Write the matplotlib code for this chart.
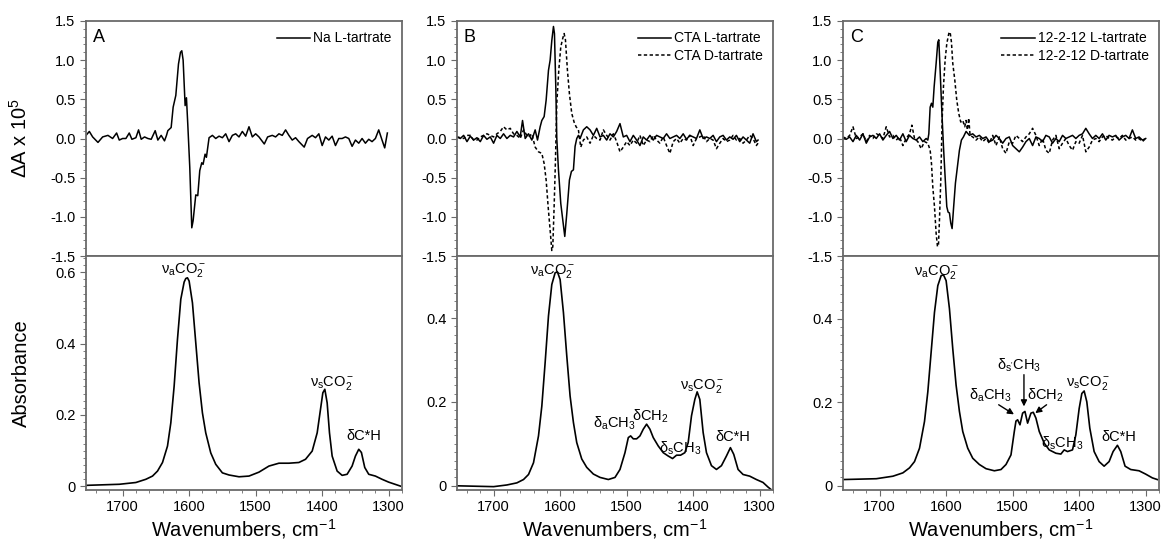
import matplotlib
matplotlib.use("Agg")
from matplotlib import pyplot as plt
from matplotlib.ticker import MultipleLocator, FixedLocator, FixedFormatter

plt.rcParams['font.family'] = ['Liberation Sans', 'DejaVu Sans']
plt.rcParams['mathtext.fontset'] = 'custom'
plt.rcParams['mathtext.rm'] = 'Liberation Sans'
plt.rcParams['mathtext.it'] = 'Liberation Sans:italic'
plt.rcParams['axes.unicode_minus'] = False

# ---------------- data ----------------
# shared wavenumber positions (cm-1)
wn_head = [1755, 1750, 1745, 1740, 1735, 1730, 1725, 1720, 1715, 1710, 1705, 1700, 1695,
           1690, 1685, 1680, 1675, 1670, 1665, 1660, 1655, 1650, 1645, 1640, 1635, 1630]
wn_tail = [1565, 1560, 1555, 1550, 1545, 1540, 1535, 1530, 1525, 1520, 1515, 1510, 1505,
           1500, 1495, 1490, 1485, 1480, 1475, 1470, 1465, 1460, 1455, 1450, 1445, 1440,
           1435, 1430, 1425, 1420, 1415, 1410, 1405, 1400, 1395, 1390, 1385, 1380, 1375,
           1370, 1365, 1360, 1355, 1350, 1345, 1340, 1335, 1330, 1325, 1320, 1315, 1310, 1305]

# A, VCD (dA x 1e5), Na L-tartrate
A_vcd_x = [1755, 1750, 1745, 1737, 1730, 1722, 1715, 1709, 1705, 1700, 1695, 1690, 1686, 1680,
           1676, 1672, 1667, 1662, 1657, 1651, 1647, 1642, 1637, 1634,
           1632, 1627, 1624, 1620, 1616, 1613, 1611, 1609, 1606, 1604, 1602, 1599, 1596, 1594,
           1590, 1587, 1584, 1581, 1579, 1576, 1574,
           1570, 1565, 1560, 1555, 1550, 1545, 1540, 1535, 1530, 1525, 1520, 1515, 1510, 1505,
           1500, 1495, 1487, 1482, 1475, 1470, 1465, 1460, 1455, 1450, 1445, 1440, 1435, 1427,
           1422, 1415, 1410, 1405, 1400, 1395, 1390, 1385, 1380, 1375, 1370, 1365, 1360, 1355,
           1350, 1345, 1340, 1335, 1330, 1325, 1320, 1315, 1310, 1306, 1302]
A_vcd = [0.04, 0.09, 0.02, -0.05, 0.02, 0.04, 0.0, 0.07, -0.02, 0.0, 0.0, 0.07, -0.01, 0.01,
         0.11, -0.01, 0.02, 0.0, -0.01, 0.1, -0.02, 0.04, -0.03, 0.04,
         0.1, 0.14, 0.4, 0.55, 0.95, 1.1, 1.12, 1.0, 0.42, 0.52, 0.18, -0.37, -1.14, -1.05,
         -0.72, -0.73, -0.41, -0.31, -0.33, -0.2, -0.24,
         0.01, 0.04, 0.0, 0.03, 0.01, 0.06, -0.04, 0.04, 0.06, 0.02, 0.09, 0.03, 0.15, 0.02,
         0.06, 0.02, -0.07, 0.02, 0.04, 0.02, 0.06, 0.04, 0.11, 0.04, -0.02, 0.01, -0.04, -0.11,
         0.0, 0.04, 0.01, 0.06, -0.09, 0.02, -0.02, 0.03, -0.09, 0.0, 0.0, 0.02, 0.0, -0.1,
         -0.02, -0.06, 0.0, -0.06, -0.01, -0.04, 0.0, 0.11, -0.02, -0.12, 0.07]

# B, VCD, CTA L-tartrate (solid) and D-tartrate (dashed)
B_L_x = (wn_head[:20] + [1656.5, 1652.5, 1647.5, 1642.5, 1637.5, 1634, 1630]
         + [1627.5, 1624, 1621, 1617.5, 1615, 1612.5, 1610, 1608.5, 1606.5, 1605, 1602.5,
            1599, 1596, 1593, 1590, 1586, 1583, 1580, 1577.5, 1575]
         + [1572.5, 1570] + wn_tail + [1302.5])
B_L = [0.02, 0.0, 0.04, -0.04, 0.03, -0.02, 0.01, -0.04, 0.04, -0.01, 0.02, -0.06, 0.04, 0.0,
       0.06, 0.0, 0.04, 0.02, 0.09, 0.02, 0.23, 0.0, 0.06, -0.02, 0.11, -0.02, 0.15,
       0.23, 0.28, 0.49, 0.87, 1.0, 1.25, 1.43, 1.34, 0.66, 0.0, -0.4, -0.83, -1.04, -1.25,
       -0.96, -0.53, -0.42, -0.4, -0.1, 0.0,
       0.04, 0.0, 0.11, 0.15, 0.11, 0.04, 0.13, 0.02, 0.04, -0.02, 0.06, 0.02, 0.09, 0.19,
       0.02, 0.04, -0.04, 0.04, -0.02, -0.09, 0.02, -0.02, 0.04, -0.02, 0.04, 0.02, 0.0, 0.06,
       0.0, 0.02, 0.04, 0.0, 0.06, -0.01, 0.04, 0.02, 0.0, 0.11, 0.0, 0.02, 0.0, 0.04, -0.04,
       0.02, 0.04, -0.02, 0.02, -0.01, 0.04, -0.04, 0.02, -0.02, -0.06, 0.06, -0.04, -0.02]
B_D_x = (wn_head[:22] + [1647.5, 1642.5, 1637.5, 1632.5, 1627.5]
         + [1624, 1621, 1618, 1615, 1612.5, 1611, 1609, 1607, 1605, 1602, 1599, 1596, 1594,
            1592, 1589, 1586, 1582.5, 1579, 1576, 1572.5, 1569]
         + wn_tail + [1302.5])
B_D = [0.02, 0.01, 0.0, 0.04, 0.04, -0.02, -0.02, 0.02, 0.04, 0.06, 0.04, 0.02, 0.06, 0.09,
       0.15, 0.11, 0.13, 0.06, 0.04, 0.0, 0.11, 0.04, 0.02, 0.06, -0.11, -0.17, -0.19,
       -0.32, -0.53, -0.87, -1.17, -1.43, -1.38, -0.87, -0.28, 0.45, 0.87, 1.17, 1.28, 1.34,
       1.26, 0.87, 0.57, 0.32, 0.21, 0.15, 0.11, -0.11,
       -0.02, 0.02, -0.06, 0.04, 0.0, -0.02, 0.11, 0.04, -0.02, 0.06, -0.04, -0.17, -0.11,
       -0.04, -0.09, -0.02, -0.06, 0.04, -0.09, -0.02, -0.04, 0.04, -0.02, -0.06, 0.02, -0.09,
       -0.19, -0.04, 0.0, -0.06, 0.0, -0.02, 0.04, -0.09, 0.0, 0.02, 0.04, -0.04, 0.0, -0.02,
       -0.13, -0.06, 0.0, -0.04, -0.02, 0.04, -0.02, 0.0, -0.06, -0.02, 0.04, 0.0, -0.09, -0.06]

# C, VCD, 12-2-12 L-tartrate (solid) and D-tartrate (dashed)
C_L_x = (wn_head + [1627.5]
         + [1626, 1624, 1622, 1620, 1618, 1615, 1612.5, 1611, 1609, 1606.5, 1604, 1601.5,
            1599, 1597, 1595, 1593, 1591, 1589, 1586, 1583, 1580, 1577, 1574]
         + [1570] + wn_tail + [1300])
C_L = [0.0, -0.01, 0.02, -0.04, 0.04, -0.02, 0.06, -0.06, 0.02, 0.04, 0.0, 0.06, -0.02, 0.04,
       0.09, 0.0, 0.04, -0.02, 0.06, -0.04, 0.04, 0.0, -0.02, 0.02, -0.04, 0.0, -0.02,
       0.06, 0.4, 0.45, 0.4, 0.66, 0.96, 1.23, 1.26, 0.87, 0.36, -0.1, -0.49, -0.87, -0.94,
       -0.95, -1.08, -1.15, -0.91, -0.57, -0.36, -0.15, -0.02, 0.02,
       0.09, 0.04, 0.06, 0.02, 0.04, 0.0, 0.02, -0.04, -0.02, 0.04, 0.0, -0.06, 0.0, 0.02,
       -0.09, -0.13, -0.17, -0.11, -0.04, 0.0, -0.09, 0.02, 0.0, -0.04, 0.04, 0.02, -0.06, 0.0,
       -0.04, 0.04, 0.0, 0.02, 0.04, 0.0, 0.04, 0.06, 0.13, 0.06, 0.0, 0.04, 0.0, 0.06, -0.02,
       0.04, 0.02, 0.04, -0.02, 0.02, 0.04, 0.0, 0.11, 0.0, 0.02, -0.02, 0.0]
C_D_x = (wn_head[:21] + [1651.5, 1647.5, 1642.5, 1637.5, 1632.5, 1627.5]
         + [1624, 1622, 1620, 1617.5, 1615, 1613, 1611.5, 1610, 1608, 1606, 1604, 1601.5,
            1599, 1596, 1594, 1592, 1590, 1587, 1584, 1581, 1578, 1575, 1572, 1570, 1568,
            1566, 1564]
         + wn_tail[1:] + [1300])
C_D = [0.02, 0.0, 0.04, 0.15, 0.0, 0.02, 0.06, -0.04, 0.04, 0.0, 0.06, 0.04, 0.0, 0.15,
       0.02, 0.04, -0.02, 0.02, -0.09, 0.0, 0.06, 0.17, 0.0, -0.04, -0.13, -0.04, -0.06,
       -0.15, -0.32, -0.62, -0.87, -1.21, -1.38, -1.36, -1.04, -0.53, 0.23, 0.66, 1.0, 1.21,
       1.34, 1.36, 1.23, 0.96, 0.75, 0.49, 0.32, 0.21, 0.23, 0.15, 0.23, 0.11, 0.26, 0.04,
       0.02, -0.02, 0.02, -0.04, 0.0, -0.06, 0.04, -0.09, 0.02, -0.13, -0.19, -0.04, -0.06,
       0.04, 0.0, -0.04, 0.02, 0.06, 0.13, 0.04, -0.09, 0.0, -0.15, -0.19, -0.02, 0.04, -0.13,
       -0.06, 0.0, -0.09, -0.15, -0.04, -0.06, 0.04, -0.17, -0.11, -0.02, 0.0, -0.04, 0.02,
       0.04, 0.0, -0.02, 0.02, 0.0, 0.04, -0.02, 0.0, 0.02, -0.02, 0.0, -0.04, 0.0]

# absorbance spectra
A_abs_x = [1755, 1705, 1680, 1665, 1655, 1647.5, 1640, 1632.5, 1627.5, 1622.5, 1617.5, 1612.5,
           1607.5, 1605, 1602.5, 1600, 1595, 1590, 1585, 1580, 1575, 1567.5, 1560, 1550, 1540,
           1525, 1510, 1495, 1480, 1465, 1450, 1435, 1425, 1415, 1407.5, 1402.5, 1399, 1396,
           1392.5, 1389, 1385, 1377.5, 1370, 1362.5, 1355, 1350, 1345, 1341, 1336, 1330, 1320,
           1310, 1300, 1282.5]
A_abs = [0.003, 0.006, 0.011, 0.02, 0.029, 0.043, 0.067, 0.113, 0.178, 0.281, 0.412, 0.524,
         0.572, 0.582, 0.584, 0.575, 0.514, 0.402, 0.29, 0.206, 0.15, 0.094, 0.062, 0.038,
         0.032, 0.027, 0.029, 0.04, 0.057, 0.065, 0.065, 0.067, 0.076, 0.099, 0.15, 0.216,
         0.262, 0.272, 0.234, 0.15, 0.085, 0.043, 0.031, 0.034, 0.057, 0.085, 0.104, 0.095,
         0.053, 0.034, 0.029, 0.02, 0.012, 0.001]
B_abs_x = [1755, 1700, 1680, 1665, 1655, 1647.5, 1640, 1632.5, 1627.5, 1622.5, 1617.5, 1612.5,
           1607.5, 1604, 1600, 1595, 1590, 1585, 1580, 1575, 1567.5, 1560, 1550, 1540, 1527.5,
           1517.5, 1510, 1502.5, 1497.5, 1494, 1490, 1485, 1480, 1475, 1470, 1465, 1460,
           1452.5, 1445, 1437.5, 1431, 1425, 1419, 1412.5, 1407.5, 1402.5, 1397.5, 1394, 1390,
           1385, 1380, 1372.5, 1365, 1357.5, 1350, 1344, 1339, 1332.5, 1325, 1315, 1305, 1295,
           1287.5, 1282]
B_abs = [0.0, -0.002, 0.002, 0.007, 0.015, 0.027, 0.055, 0.119, 0.19, 0.294, 0.405, 0.48,
         0.508, 0.51, 0.492, 0.413, 0.31, 0.214, 0.151, 0.103, 0.064, 0.044, 0.028, 0.02,
         0.015, 0.02, 0.039, 0.079, 0.115, 0.119, 0.112, 0.112, 0.119, 0.135, 0.147, 0.135,
         0.115, 0.095, 0.079, 0.071, 0.065, 0.073, 0.073, 0.079, 0.103, 0.167, 0.206, 0.224,
         0.206, 0.127, 0.079, 0.048, 0.039, 0.048, 0.071, 0.091, 0.075, 0.039, 0.027, 0.023,
         0.015, 0.008, -0.003, -0.01]
C_abs_x = [1755, 1705, 1680, 1665, 1655, 1647.5, 1640, 1632.5, 1627.5, 1622.5, 1617.5, 1612.5,
           1607.5, 1604, 1600, 1595, 1590, 1585, 1580, 1575, 1567.5, 1560, 1550, 1540, 1527.5,
           1517.5, 1510, 1502.5, 1497.5, 1495, 1492.5, 1489, 1485, 1481.5, 1477.5, 1472.5,
           1469, 1465, 1460, 1452.5, 1445, 1435, 1427.5, 1422.5, 1417.5, 1410, 1405, 1400,
           1396, 1392.5, 1388.5, 1384, 1377.5, 1370, 1362.5, 1355, 1349, 1342.5, 1337.5, 1331,
           1322.5, 1310, 1300, 1290, 1282.5]
C_abs = [0.015, 0.017, 0.023, 0.031, 0.043, 0.058, 0.09, 0.154, 0.225, 0.32, 0.415, 0.479,
         0.503, 0.505, 0.491, 0.424, 0.328, 0.241, 0.178, 0.13, 0.09, 0.066, 0.051, 0.041,
         0.036, 0.039, 0.051, 0.074, 0.13, 0.155, 0.158, 0.146, 0.174, 0.178, 0.15, 0.174,
         0.176, 0.162, 0.13, 0.102, 0.086, 0.078, 0.076, 0.086, 0.082, 0.086, 0.122, 0.185,
         0.221, 0.227, 0.201, 0.138, 0.082, 0.058, 0.047, 0.058, 0.082, 0.097, 0.082, 0.047,
         0.039, 0.036, 0.028, 0.019, 0.015]

panel_letters = ['A', 'B', 'C']
vcd_series = [
    [(A_vcd_x, A_vcd, '-', 'Na L-tartrate')],
    [(B_L_x, B_L, '-', 'CTA L-tartrate'), (B_D_x, B_D, '--', 'CTA D-tartrate')],
    [(C_L_x, C_L, '-', '12-2-12 L-tartrate'), (C_D_x, C_D, '--', '12-2-12 D-tartrate')],
]
abs_series = [(A_abs_x, A_abs), (B_abs_x, B_abs), (C_abs_x, C_abs)]
abs_ylims = [(-0.01, 0.645), (-0.01, 0.548), (-0.01, 0.55)]

nu_a = r'$\mathregular{\nu_aCO_2^-}$'
nu_s = r'$\mathregular{\nu_sCO_2^-}$'
d_CH = 'δC*H'
d_aCH3 = r'$\mathregular{\delta_aCH_3}$'
d_sCH3 = r'$\mathregular{\delta_sCH_3}$'
d_CH2 = r'$\mathregular{\delta CH_2}$'
d_spCH3 = r"$\mathregular{\delta_{s'}CH_3}$"
# (text, x, baseline y) per panel
abs_labels = [
    [(nu_a, 1608, 0.597), (nu_s, 1385, 0.28), (d_CH, 1338, 0.129)],
    [(nu_a, 1612, 0.505), (d_aCH3, 1518, 0.138), (d_CH2, 1465, 0.155), (d_sCH3, 1420, 0.079),
     (nu_s, 1387, 0.231), (d_CH, 1340, 0.107)],
    [(nu_a, 1615, 0.505), (d_spCH3, 1490, 0.279), (d_aCH3, 1533, 0.207), (d_CH2, 1451, 0.207),
     (d_sCH3, 1426, 0.091), (nu_s, 1387, 0.238), (d_CH, 1340, 0.107)],
]
# arrows in panel C: (start x, start y, end x, end y)
C_arrows = [(1483, 0.266, 1483, 0.19), (1521, 0.194, 1498, 0.171), (1449, 0.194, 1466, 0.174)]

# ---------------- drawing ----------------
W, H = 1163, 543
fig = plt.figure(figsize=(W / 100, H / 100), dpi=100)
lefts = [86, 457, 843]
frame_col = '#6a6a6a'

for i in range(3):
    l = lefts[i] / W
    w = 316 / W
    ax_t = fig.add_axes([l, (H - 256) / H, w, 235 / H])
    ax_b = fig.add_axes([l, (H - 490) / H, w, 234 / H])

    for x, y, ls, lab in vcd_series[i]:
        ax_t.plot(x, y, color='k', lw=1.1, ls=ls, dashes=(2.2, 1.6) if ls == '--' else (None, None),
                  label=lab)
    xa, ya = abs_series[i]
    ax_b.plot(xa, ya, color='k', lw=1.2)

    for ax in (ax_t, ax_b):
        ax.set_xlim(1755, 1280)
        for s in ax.spines.values():
            s.set_color(frame_col)
            s.set_linewidth(1.3)
        ax.tick_params(which='both', direction='out', color=frame_col, labelsize=10.5,
                       right=False, top=False)
        ax.tick_params(which='major', length=4)
        ax.tick_params(which='minor', length=2)

    ax_t.set_ylim(-1.5, 1.5)
    ax_t.yaxis.set_major_locator(FixedLocator([-1.5, -1.0, -0.5, 0.0, 0.5, 1.0, 1.5]))
    ax_t.yaxis.set_major_formatter(FixedFormatter(['-1.5', '-1.0', '-0.5', '0.0', '0.5', '1.0', '1.5']))
    ax_t.yaxis.set_minor_locator(MultipleLocator(0.1))
    ax_t.tick_params(axis='x', which='both', bottom=False, labelbottom=False)
    ax_t.text(0.022, 0.965, panel_letters[i], transform=ax_t.transAxes, va='top', ha='left',
              fontsize=13)
    ax_t.legend(loc='upper right', frameon=False, fontsize=10, handlelength=2.4,
                handletextpad=0.2, labelspacing=0.25, borderaxespad=0.35)

    ax_b.set_ylim(*abs_ylims[i])
    ax_b.yaxis.set_major_locator(FixedLocator([0, 0.2, 0.4, 0.6]))
    ax_b.yaxis.set_major_formatter(FixedFormatter(['0', '0.2', '0.4', '0.6']))
    ax_b.yaxis.set_minor_locator(MultipleLocator(0.02))
    ax_b.xaxis.set_major_locator(MultipleLocator(100))
    ax_b.xaxis.set_minor_locator(MultipleLocator(20))
    ax_b.set_xlabel(r'Wavenumbers, cm$^{-1}$', fontsize=14.5, labelpad=2)

    for txt, tx, ty in abs_labels[i]:
        ax_b.text(tx, ty, txt, ha='center', va='baseline', fontsize=10.5)

    if i == 0:
        ax_t.set_ylabel(r'$\Delta$A x 10$^5$', fontsize=14.5)
        ax_t.yaxis.set_label_coords(-0.175, 0.5)
        ax_b.set_ylabel('Absorbance', fontsize=14.5)
        ax_b.yaxis.set_label_coords(-0.175, 0.5)
    if i == 2:
        for x0, y0, x1, y1 in C_arrows:
            ax_b.annotate('', xy=(x1, y1), xytext=(x0, y0),
                          arrowprops=dict(arrowstyle='-|>', color='k', lw=1.0,
                                          mutation_scale=9, shrinkA=0, shrinkB=0))

fig.savefig('out.png', dpi=100)
